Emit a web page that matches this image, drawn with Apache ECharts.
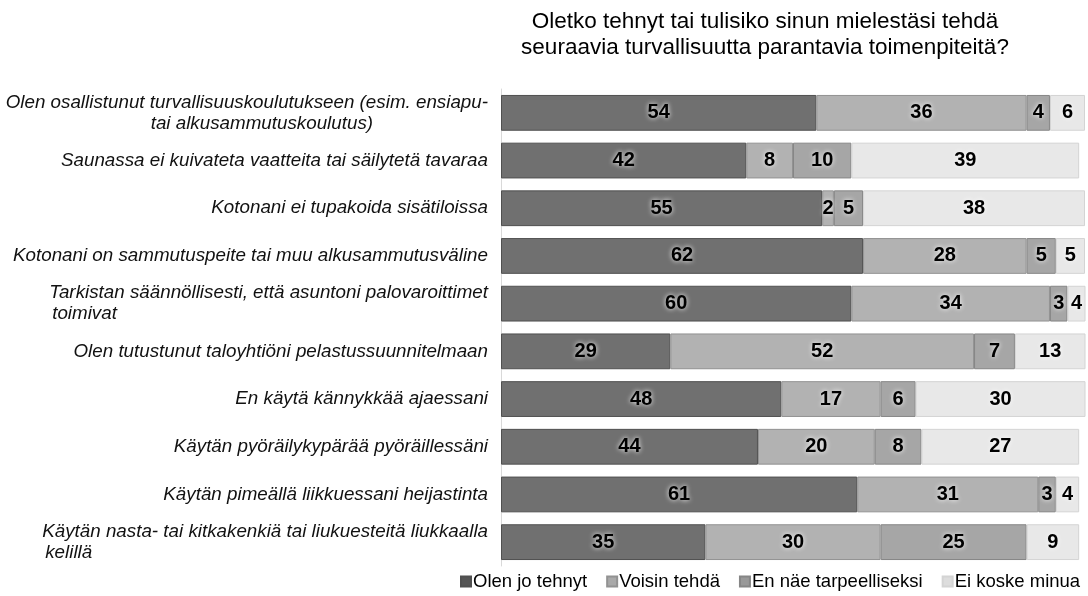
<!DOCTYPE html>
<html>
<head>
<meta charset="utf-8">
<script src="https://cdn.jsdelivr.net/npm/echarts@6/dist/echarts.min.js"></script>
<style>
  html, body { margin: 0; padding: 0; background: #fff; }
  #chart { width: 1088px; height: 596px; }
</style>
</head>
<body>
<div id="chart"></div>
<script>
// categories, top to bottom
const categories = [
  'Olen osallistunut turvallisuuskoulutukseen (esim. ensiapu-\ntai alkusammutuskoulutus)',
  'Saunassa ei kuivateta vaatteita tai säilytetä tavaraa',
  'Kotonani ei tupakoida sisätiloissa',
  'Kotonani on sammutuspeite tai muu alkusammutusväline',
  'Tarkistan säännöllisesti, että asuntoni palovaroittimet\ntoimivat',
  'Olen tutustunut taloyhtiöni pelastussuunnitelmaan',
  'En käytä kännykkää ajaessani',
  'Käytän pyöräilykypärää pyöräillessäni',
  'Käytän pimeällä liikkuessani heijastinta',
  'Käytän nasta- tai kitkakenkiä tai liukuesteitä liukkaalla\nkelillä'
]
const seriesNames = ['Olen jo tehnyt', 'Voisin tehdä', 'En näe tarpeelliseksi', 'Ei koske minua']
const done = [54, 42, 55, 62, 60, 29, 48, 44, 61, 35]
const could = [36, 8, 2, 28, 34, 52, 17, 20, 31, 30]
const notNeeded = [4, 10, 5, 5, 3, 7, 6, 8, 3, 25]
const notConcern = [6, 39, 38, 5, 4, 13, 30, 27, 4, 9]

const fills = ['#707070', '#b2b2b2', '#a6a6a6', '#e8e8e8']
const borders = ['#505050', '#929292', '#868686', '#d4d4d4']
const legendFills = ['#555555', '#a9a9a9', '#999999', '#dddddd']
const font = 'Liberation Sans, Arial, sans-serif'

const myChart = echarts.init(document.getElementById('chart'))

const seriesData = [done, could, notNeeded, notConcern]
const series = seriesData.map((d, i) => ({
  name: seriesNames[i],
  type: 'bar',
  stack: 'all',
  barCategoryGap: '25%',
  data: d,
  itemStyle: { color: fills[i], borderColor: borders[i], borderWidth: 1 },
  label: {
    show: true,
    position: 'inside',
    color: '#000',
    fontFamily: font,
    fontWeight: 'bold',
    fontSize: 20,
    textShadowColor: '#fff',
    textShadowBlur: 5
  }
}))

let option = {
  animation: false,
  title: {
    text: 'Oletko tehnyt tai tulisiko sinun mielestäsi tehdä\nseuraavia turvallisuutta parantavia toimenpiteitä?',
    left: 760,
    top: 4,
    textAlign: 'center',
    textStyle: {
      fontFamily: font,
      fontWeight: 'normal',
      fontSize: 22.5,
      lineHeight: 26,
      color: '#000'
    }
  },
  legend: {
    data: seriesNames.map((n, i) => ({ name: n, itemStyle: { color: legendFills[i] } })),
    left: 455,
    bottom: 0,
    icon: 'rect',
    itemWidth: 10,
    itemHeight: 10,
    itemGap: 19,
    textStyle: {
      fontFamily: font,
      fontSize: 18.5,
      color: '#000',
      padding: [0, 0, 0, -3]
    }
  },
  grid: {
    left: 501,
    right: 3,
    top: 89,
    bottom: 30
  },
  xAxis: {
    type: 'value',
    min: 0,
    max: 100,
    show: false
  },
  yAxis: {
    type: 'category',
    inverse: true,
    data: categories,
    axisLine: { show: true, lineStyle: { color: '#d9d9d9' } },
    axisTick: { show: false },
    axisLabel: {
      margin: 13,
      fontFamily: font,
      fontStyle: 'italic',
      fontSize: 18.8,
      color: '#111',
      lineHeight: 21,
      formatter: (val, idx) => {
        const parts = val.split('\n')
        if (parts.length === 1) return '{a|' + val + '}'
        const style = idx === 0 ? 'c' : 'b'
        return '{a|' + parts[0] + '}\n{' + style + '|' + parts[1] + '}'
      },
      rich: {
        a: { fontStyle: 'italic', fontSize: 18.8, lineHeight: 21, align: 'right' },
        b: { fontStyle: 'italic', fontSize: 18.8, lineHeight: 21, align: 'left', padding: [0, 0, 0, 3] },
        c: { fontStyle: 'italic', fontSize: 18.8, lineHeight: 21, align: 'center', padding: [0, 0, 0, 30] }
      }
    }
  },
  series: series
}
myChart.setOption(option)
</script>
</body>
</html>
